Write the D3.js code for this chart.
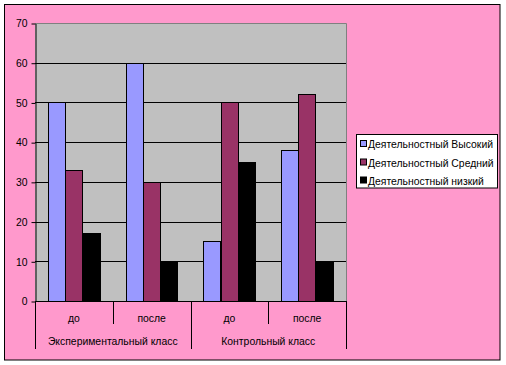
<!DOCTYPE html>
<html><head><meta charset="utf-8">
<script src="https://cdn.jsdelivr.net/npm/d3@7"></script>
<style>body{margin:0;background:#fff}svg{display:block}text{font-family:"Liberation Sans",Arial,sans-serif;font-size:10.4px;fill:#000}</style>
</head><body><div id="c"></div>
<script>
const groups = ["Экспериментальный класс", "Контрольный класс"];
const subLabels = ["до", "после", "до", "после"];
const seriesNames = ["Деятельностный Высокий", "Деятельностный Средний", "Деятельностный низкий"];
const seriesColors = ["#9999FF", "#993366", "#000000"];
const valHigh = [50, 60, 15, 38];
const valMid = [33, 30, 50, 52];
const valLow = [17, 10, 35, 10];
const yTicks = [0, 10, 20, 30, 40, 50, 60, 70];

const series = [valHigh, valMid, valLow];
const W = 506, H = 365;
const svg = d3.select("#c").append("svg").attr("width", W).attr("height", H);
svg.append("rect").attr("x", 0).attr("y", 0).attr("width", W).attr("height", H).attr("fill", "#fff");
svg.append("rect").attr("x", 4.5).attr("y", 4.5).attr("width", 495.5).attr("height", 355.5)
  .attr("fill", "#FF99CC").attr("stroke", "#000").attr("stroke-width", 1);

const pl = 35, pr = 346, pt = 23, pb = 301;
const x = d3.scaleBand().domain(d3.range(subLabels.length)).range([pl, pr]).padding(0);
const y = d3.scaleLinear().domain([0, 70]).range([pb, pt]);
const bw = x.bandwidth();
const off = bw * 0.75 / 4.5;
const xs = d3.scaleBand().domain(d3.range(series.length)).range([off, bw - off]).padding(0);

svg.append("rect").attr("x", pl).attr("y", pt).attr("width", pr - pl).attr("height", pb - pt)
  .attr("fill", "#C0C0C0");
svg.append("g").selectAll("line").data(yTicks.filter(d => d > 0 && d < 70)).join("line")
  .attr("x1", pl).attr("x2", pr).attr("y1", d => Math.round(y(d)) + 0.5).attr("y2", d => Math.round(y(d)) + 0.5)
  .attr("stroke", "#000");
svg.append("path").attr("d", `M${pl},${pt + 0.5}H${pr + 0.5}V${pb}`).attr("fill", "none").attr("stroke", "#808080");

const bars = [];
series.forEach((vals, si) => vals.forEach((v, ci) => bars.push({ si, ci, v })));
svg.append("g").selectAll("rect").data(bars).join("rect")
  .attr("x", d => Math.round(x(d.ci) + xs(d.si)) + 0.5)
  .attr("y", d => Math.round(y(d.v)) + 0.5)
  .attr("width", Math.round(xs.bandwidth()))
  .attr("height", d => Math.round(y(0)) - Math.round(y(d.v)))
  .attr("fill", d => seriesColors[d.si]).attr("stroke", "#000");

const ya = d3.axisLeft(y).tickValues(yTicks).tickSize(4).tickSizeOuter(0).tickPadding(4);
const gy = svg.append("g").attr("transform", `translate(${pl + 0.5},0.5)`).call(ya);
gy.select(".domain").attr("stroke", "#000");
gy.selectAll("text").style("font-family", '"Liberation Sans",Arial,sans-serif').style("font-size", "10.4px").attr("fill", "#000");

svg.append("line").attr("x1", pl).attr("x2", pr + 1).attr("y1", pb + 0.5).attr("y2", pb + 0.5).attr("stroke", "#000");
const inner = [1, 3];
const outer = [0, 2, 4];
const edge = i => i < subLabels.length ? x(i) : pr;
svg.append("g").selectAll("line").data(inner).join("line")
  .attr("x1", d => Math.round(edge(d)) + 0.5).attr("x2", d => Math.round(edge(d)) + 0.5)
  .attr("y1", pb).attr("y2", 324).attr("stroke", "#000");
svg.append("g").selectAll("line").data(outer).join("line")
  .attr("x1", d => Math.round(edge(d)) + 0.5).attr("x2", d => Math.round(edge(d)) + 0.5)
  .attr("y1", pb).attr("y2", 349).attr("stroke", "#000");
svg.append("g").selectAll("text").data(subLabels).join("text")
  .attr("x", (d, i) => x(i) + bw / 2).attr("y", 321.5).attr("text-anchor", "middle").text(d => d);
svg.append("g").selectAll("text").data(groups).join("text")
  .attr("x", (d, i) => x(i * 2) + bw).attr("y", 345).attr("text-anchor", "middle").text(d => d);

const lg = svg.append("g");
lg.append("rect").attr("x", 356.5).attr("y", 134.5).attr("width", 141).attr("height", 53.5)
  .attr("fill", "#fff").attr("stroke", "#000");
const rows = lg.selectAll("g").data(seriesNames).join("g")
  .attr("transform", (d, i) => `translate(0,${[144, 162.5, 180.5][i]})`);
rows.append("rect").attr("x", 360.5).attr("y", -3.5).attr("width", 6).attr("height", 6)
  .attr("fill", (d, i) => seriesColors[i]).attr("stroke", "#000");
rows.append("text").attr("x", 368).attr("y", 4).text(d => d);
</script></body></html>
